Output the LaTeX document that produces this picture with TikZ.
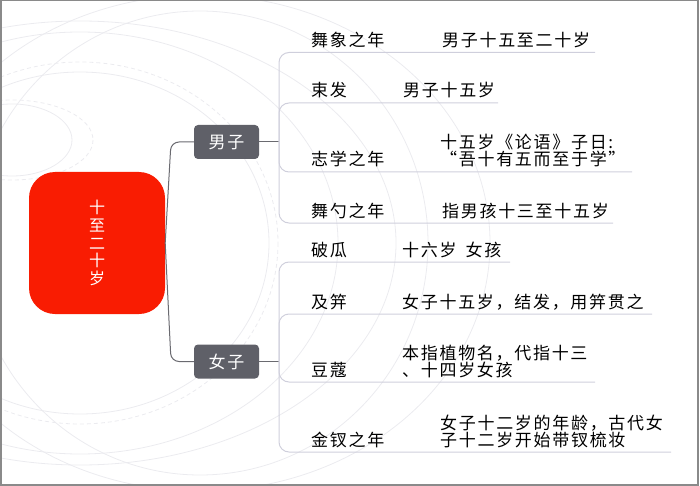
\documentclass[tikz,border=0pt]{standalone}
\usepackage{fontspec}
\setmainfont{Noto Sans CJK SC}[LetterSpace=10]
\begin{document}
\begin{tikzpicture}[x=1pt,y=-1pt,
  txt/.style={anchor=base west,inner sep=0pt,font=\fontsize{17}{17}\selectfont,text=black},
  catbox/.style={draw=none,fill=boxgray,rounded corners=4pt,minimum width=65pt,minimum height=34pt,inner sep=0pt,text=white,font=\fontsize{17}{17}\selectfont},
  trunk/.style={draw=trunkgray,line width=1pt,rounded corners=8pt},
  brk/.style={draw=brkgray,line width=1pt,rounded corners=10pt},
  bg/.style={draw=bggray,line width=0.8pt},
  bgd/.style={draw=bggray,line width=0.8pt,dash pattern=on 4pt off 3pt}]
\definecolor{rootred}{HTML}{F91C02}
\definecolor{boxgray}{HTML}{5F6068}
\definecolor{trunkgray}{HTML}{6A6A70}
\definecolor{brkgray}{HTML}{CFCFDC}
\definecolor{bggray}{HTML}{EBEBEF}
\definecolor{framegray}{HTML}{8A8A8A}
\useasboundingbox (0,0) rectangle (700,486);
% background decoration
\begin{scope}
\clip (1,1) rectangle (698,485);
\draw[bg] (12,140) ellipse [x radius=60, y radius=36];
\draw[bgd] (12,140) ellipse [x radius=81, y radius=40];
\draw[bg] (80,243) ellipse [x radius=316, y radius=222];
\draw[bg] (80,243) ellipse [x radius=258, y radius=211];
\draw[bgd] (80,243) ellipse [x radius=198, y radius=181];
\draw[bg] (80,243) ellipse [x radius=189, y radius=171];
\draw[bg] (200,243) ellipse [x radius=290, y radius=248];
\draw[bg] (200,243) ellipse [x radius=228, y radius=232];
\end{scope}
\draw[framegray,line width=1.5pt] (0.75,0.75) rectangle (698,485);
% root
\node[fill=rootred,rounded corners=26pt,minimum width=136pt,minimum height=142pt,inner sep=0pt,
  text=white,align=center,font=\fontsize{16}{17.8}\selectfont] (root) at (97,243)
  {十\\至\\二\\十\\岁};
% categories
\node[catbox] (male) at (226.5,142) {男子};
\node[catbox] (female) at (226.5,361.5) {女子};
\coordinate (mbr) at (279,142);
\coordinate (fbr) at (279,361.5);
\draw[trunk] (root.east) -- (171,142) -- (male.west);
\draw[trunk] (root.east) -- (171,361.5) -- (female.west);
\draw[trunk,rounded corners=0pt] (male.east) -- (mbr);
\draw[trunk,rounded corners=0pt] (female.east) -- (fbr);
% underline end points
\coordinate (u1) at (595,52.5);
\coordinate (u2) at (498,103);
\coordinate (u3) at (632,172);
\coordinate (u4) at (613,223);
\coordinate (u5) at (510,262);
\coordinate (u6) at (652,314);
\coordinate (u7) at (595,382);
\coordinate (u8) at (671,452);
\foreach \u in {u1,u2,u3,u4} \draw[brk] (mbr) |- (\u);
\foreach \u in {u5,u6,u7,u8} \draw[brk] (fbr) |- (\u);
% male children
\node[txt] (l1) at (311,46.5) {舞象之年};
\node[txt] (v1) at (442,46.5) {男子十五至二十岁};
\node[txt] (l2) at (311,97) {束发};
\node[txt] (v2) at (403,97) {男子十五岁};
\node[txt] (l3) at (311,166) {志学之年};
\node[txt] (v3a) at (440,149) {十五岁《论语》子日:};
\node[txt] (v3b) at (440,166) {“吾十有五而至于学”};
\node[txt] (l4) at (311,217) {舞勺之年};
\node[txt] (v4) at (442,217) {指男孩十三至十五岁};
% female children
\node[txt] (l5) at (311,256) {破瓜};
\node[txt] (v5) at (402,256) {十六岁\hspace{9pt}女孩};
\node[txt] (l6) at (311,308) {及笄};
\node[txt] (v6) at (402,308) {女子十五岁，结发，用笄贯之};
\node[txt] (l7) at (311,376) {豆蔻};
\node[txt] (v7a) at (402,359) {本指植物名，代指十三};
\node[txt] (v7b) at (402,376) {、十四岁女孩};
\node[txt] (l8) at (311,446) {金钗之年};
\node[txt] (v8a) at (440,429) {女子十二岁的年龄，古代女};
\node[txt] (v8b) at (440,446) {子十二岁开始带钗梳妆};
\end{tikzpicture}
\end{document}
